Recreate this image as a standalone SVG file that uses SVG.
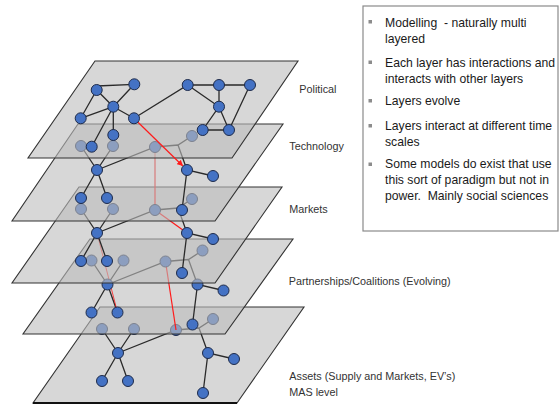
<svg xmlns="http://www.w3.org/2000/svg" width="559" height="406" viewBox="0 0 559 406">
<defs>
<style>
.plane{fill:#bdbdbd;fill-opacity:0.6;stroke:#333;stroke-width:1.1;stroke-linejoin:miter}
.edge{stroke:#2a2a2a;stroke-width:1.3;fill:none}
.node{fill:#4472c4;stroke:#1e2b4a;stroke-width:1}
.red{stroke:#ff1a1a;stroke-width:1.2;fill:none}
.thin{stroke:#ff1a1a;stroke-width:0.8;fill:none}
.lbl{font-family:"Liberation Sans",Arial,sans-serif;font-size:10.8px;fill:#333}
.txt{font-family:"Liberation Sans",Arial,sans-serif;font-size:12.2px;fill:#1a1a1a}
.bul{fill:#8c8c8c}
</style>
<marker id="arr" viewBox="0 0 10 10" refX="9" refY="5" markerWidth="6" markerHeight="6" orient="auto" markerUnits="userSpaceOnUse">
<path d="M0,0 L10,5 L0,10 z" fill="#ff1a1a"/>
</marker>
</defs>
<rect width="559" height="406" fill="#fff"/>

<!-- Layer 5: Assets -->
<g id="layer5">
<polygon class="plane" points="100,307 304,307 237,403 33,403"/>
<line x1="33" y1="403" x2="237" y2="403" stroke="#111" stroke-width="2"/>
<g id="l5-connectors">
<path class="edge" d="M102,329 L118,353 M134,329 L118,353 M118,353 L102,381 M118,353 L128,381 M118,353 L176,330 L199,328 L213,319 M199,328 L208,353 L234,359 M208,353 L203,393"/>
</g>
<g id="l5-f1"><circle class="node" cx="102" cy="329" r="5.5"/></g>
<g id="l5-f2"><circle class="node" cx="134" cy="329" r="5.5"/></g>
<g id="l5-f3"><circle class="node" cx="176" cy="330" r="5.5"/></g>
<g id="l5-f4"><circle class="node" cx="213" cy="319" r="5.5"/></g>
<g id="l5-s1"><circle class="node" cx="118" cy="353" r="5.5"/></g>
<g id="l5-s2"><circle class="node" cx="208" cy="353" r="5.5"/></g>
<g id="l5-s3"><circle class="node" cx="234" cy="359" r="5.5"/></g>
<g id="l5-s4"><circle class="node" cx="102" cy="381" r="5.5"/></g>
<g id="l5-s5"><circle class="node" cx="128" cy="381" r="5.5"/></g>
<g id="l5-s6"><circle class="node" cx="203" cy="393" r="5.5"/></g>
</g>

<!-- Layer 4: Partnerships -->
<g id="layer4">
<polygon class="plane" points="90,239 293,239 225,334 23,334"/>
<g id="l4-connectors">
<path class="edge" d="M91.5,260.5 L107.5,284.5 M123.5,260.5 L107.5,284.5 M107.5,284.5 L91.5,312.5 M107.5,284.5 L117.5,312.5 M107.5,284.5 L165.5,261.5 L188.5,259.5 L202.5,250.5 M188.5,259.5 L197.5,284.5 L223.5,290.5 M197.5,284.5 L192.5,324.5"/>
<line class="thin" x1="97" y1="233" x2="117.5" y2="312.5"/>
<line class="red" x1="165.5" y1="261.5" x2="176" y2="330"/>
</g>
<g id="l4-f1"><circle class="node" cx="91.5" cy="260.5" r="5.5"/></g>
<g id="l4-f2"><circle class="node" cx="123.5" cy="260.5" r="5.5"/></g>
<g id="l4-f3"><circle class="node" cx="165.5" cy="261.5" r="5.5"/></g>
<g id="l4-f4"><circle class="node" cx="202.5" cy="250.5" r="5.5"/></g>
<g id="l4-s1"><circle class="node" cx="107.5" cy="284.5" r="5.5"/></g>
<g id="l4-s2"><circle class="node" cx="197.5" cy="284.5" r="5.5"/></g>
<g id="l4-s3"><circle class="node" cx="223.5" cy="290.5" r="5.5"/></g>
<g id="l4-s4"><circle class="node" cx="91.5" cy="312.5" r="5.5"/></g>
<g id="l4-s5"><circle class="node" cx="117.5" cy="312.5" r="5.5"/></g>
<g id="l4-s6"><circle class="node" cx="192.5" cy="324.5" r="5.5"/></g>
</g>

<!-- Layer 3: Markets -->
<g id="layer3">
<polygon class="plane" points="79,187 282,187 215,283 12,283"/>
<g id="l3-connectors">
<path class="edge" d="M81,209 L97,233 M113,209 L97,233 M97,233 L81,261 M97,233 L107,261 M97,233 L155,210 L178,208 L192,199 M178,208 L187,233 L213,239 M187,233 L182,273"/>
<line class="red" x1="155" y1="147" x2="155" y2="210"/>
<line class="red" x1="155" y1="210" x2="187" y2="233"/>
</g>
<g id="l3-f1"><circle class="node" cx="81" cy="209" r="5.5"/></g>
<g id="l3-f2"><circle class="node" cx="113" cy="209" r="5.5"/></g>
<g id="l3-f3"><circle class="node" cx="155" cy="210" r="5.5"/></g>
<g id="l3-f4"><circle class="node" cx="192" cy="199" r="5.5"/></g>
<g id="l3-s1"><circle class="node" cx="97" cy="233" r="5.5"/></g>
<g id="l3-s2"><circle class="node" cx="187" cy="233" r="5.5"/></g>
<g id="l3-s3"><circle class="node" cx="213" cy="239" r="5.5"/></g>
<g id="l3-s4"><circle class="node" cx="81" cy="261" r="5.5"/></g>
<g id="l3-s5"><circle class="node" cx="107" cy="261" r="5.5"/></g>
<g id="l3-s6"><circle class="node" cx="182" cy="273" r="5.5"/></g>
</g>

<!-- Layer 2: Technology -->
<g id="layer2">
<polygon class="plane" points="78,124 283,124 215,221 12,221"/>
<g id="l2-connectors">
<path class="edge" d="M81,146 L97,170 M113,146 L97,170 M97,170 L81,198 M97,170 L107,198 M97,170 L155,147 L178,145 L192,136 M178,145 L187,170 L213,176 M187,170 L182,210"/>
</g>
<g id="l2-f1"><circle class="node" cx="81" cy="146" r="5.5"/></g>
<g id="l2-f2"><circle class="node" cx="113" cy="146" r="5.5"/></g>
<g id="l2-f3"><circle class="node" cx="155" cy="147" r="5.5"/></g>
<g id="l2-f4"><circle class="node" cx="192" cy="136" r="5.5"/></g>
<g id="l2-s1"><circle class="node" cx="97" cy="170" r="5.5"/></g>
<g id="l2-s2"><circle class="node" cx="187" cy="170" r="5.5"/></g>
<g id="l2-s3"><circle class="node" cx="213" cy="176" r="5.5"/></g>
<g id="l2-s4"><circle class="node" cx="81" cy="198" r="5.5"/></g>
<g id="l2-s5"><circle class="node" cx="107" cy="198" r="5.5"/></g>
<g id="l2-s6"><circle class="node" cx="182" cy="210" r="5.5"/></g>
</g>

<!-- Layer 1: Political -->
<g id="layer1">
<polygon class="plane" points="95,61 298,61 232,158 28,158"/>
<g id="l1-connectors">
<path class="edge" d="M96.7,86 L134.3,84.3 M96.7,90 L80.7,118.3 M96.7,90 L113.3,106.7 M134.3,84.3 L113.3,106.7 M113.3,106.7 L80.7,118.3 M113.3,106.7 L134,118.3 M113.3,106.7 L113.3,135 M113.3,106.7 L91.7,146.7 M134,118.3 L187.7,85 L219,85 L250,85 M187.7,85 L219,106.7 M219,85 L219,106.7 M219,106.7 L202.7,130 L229,130 L219,106.7 M250,85 L229,130"/>
<line class="red" x1="138" y1="122.2" x2="182.6" y2="165.7" marker-end="url(#arr)"/>
</g>
<g id="l1-a"><circle class="node" cx="96.7" cy="90" r="5.5"/></g>
<g id="l1-b"><circle class="node" cx="134.3" cy="84.3" r="5.5"/></g>
<g id="l1-c"><circle class="node" cx="113.3" cy="106.7" r="5.5"/></g>
<g id="l1-d"><circle class="node" cx="80.7" cy="118.3" r="5.5"/></g>
<g id="l1-e"><circle class="node" cx="134" cy="118.3" r="5.5"/></g>
<g id="l1-f"><circle class="node" cx="113.3" cy="135" r="5.5"/></g>
<g id="l1-g"><circle class="node" cx="91.7" cy="146.7" r="5.5"/></g>
<g id="l1-h"><circle class="node" cx="187.7" cy="85" r="5.5"/></g>
<g id="l1-i"><circle class="node" cx="219" cy="85" r="5.5"/></g>
<g id="l1-j"><circle class="node" cx="250" cy="85" r="5.5"/></g>
<g id="l1-k"><circle class="node" cx="219" cy="106.7" r="5.5"/></g>
<g id="l1-l"><circle class="node" cx="202.7" cy="130" r="5.5"/></g>
<g id="l1-m"><circle class="node" cx="229" cy="130" r="5.5"/></g>
</g>

<!-- Layer labels -->
<g id="labels">
<text class="lbl" x="299.3" y="93.3">Political</text>
<text class="lbl" x="289.3" y="150.3">Technology</text>
<text class="lbl" x="289.3" y="213">Markets</text>
<text class="lbl" x="288.7" y="284.5">Partnerships/Coalitions (Evolving)</text>
<text class="lbl" x="289.3" y="379.5">Assets (Supply and Markets, EV’s)</text>
<text class="lbl" x="289.3" y="395.5">MAS level</text>
</g>

<!-- Notes box -->
<g id="notes">
<rect x="363" y="6" width="195" height="225" fill="#fff" stroke="#8a8a8a" stroke-width="1.2"/>
<rect class="bul" x="368.5" y="20" width="3.5" height="3.5"/>
<rect class="bul" x="368.5" y="60.5" width="3.5" height="3.5"/>
<rect class="bul" x="368.5" y="99" width="3.5" height="3.5"/>
<rect class="bul" x="368.5" y="124" width="3.5" height="3.5"/>
<rect class="bul" x="368.5" y="162.5" width="3.5" height="3.5"/>
<text class="txt" x="385" y="27" xml:space="preserve">Modelling  - naturally multi</text>
<text class="txt" x="385" y="42.5">layered</text>
<text class="txt" x="385" y="67">Each layer has interactions and</text>
<text class="txt" x="385" y="82.5">interacts with other layers</text>
<text class="txt" x="385" y="104.5">Layers evolve</text>
<text class="txt" x="385" y="130">Layers interact at different time</text>
<text class="txt" x="385" y="145.5">scales</text>
<text class="txt" x="385" y="168">Some models do exist that use</text>
<text class="txt" x="385" y="184">this sort of paradigm but not in</text>
<text class="txt" x="385" y="200" xml:space="preserve">power.  Mainly social sciences</text>
</g>
</svg>
